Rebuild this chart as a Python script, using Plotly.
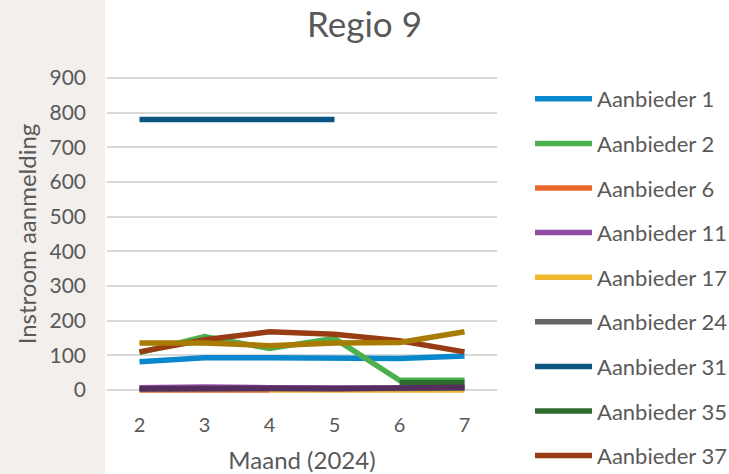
import plotly.graph_objects as go

# Maanden (2024)
maanden = [2, 3, 4, 5, 6, 7]

# Instroom aanmelding per aanbieder (None = geen waarde)
aanbieder_1 = [82, 93, 93, 91, 91, 98]
aanbieder_2 = [108, 154, 120, 149, 28, 28]
aanbieder_6 = [0, 0, 0, None, None, None]
aanbieder_11 = [7, 9, 7, 5, 6, 8]
aanbieder_17 = [None, None, 0, 0, 0, 0]
aanbieder_24 = [3, 4, 4, 3, 4, 5]
aanbieder_31 = [780, 780, 780, 780, None, None]
aanbieder_35 = [None, None, None, None, 21, 21]
aanbieder_37 = [110, 145, 168, 161, 142, 110]
aanbieder_38 = [136, 136, 128, 136, 137, 168]
aanbieder_39 = [4, 6, 5, 4, 5, 8]

series = [
    ("Aanbieder 1", aanbieder_1, "#0A88CD", True),
    ("Aanbieder 2", aanbieder_2, "#4DB04F", True),
    ("Aanbieder 6", aanbieder_6, "#E8692E", True),
    ("Aanbieder 11", aanbieder_11, "#8E4EA6", True),
    ("Aanbieder 17", aanbieder_17, "#F2B92C", True),
    ("Aanbieder 24", aanbieder_24, "#666666", True),
    ("Aanbieder 31", aanbieder_31, "#0B5580", True),
    ("Aanbieder 35", aanbieder_35, "#2E6B2E", True),
    ("Aanbieder 37", aanbieder_37, "#983C14", True),
    ("Aanbieder 38", aanbieder_38, "#A87B04", False),
    ("Aanbieder 39", aanbieder_39, "#552D5F", False),
]

FONT = "Lato"
GREY = "#595959"

fig = go.Figure()
for i, (name, values, color, in_legend) in enumerate(series):
    fig.add_trace(go.Scatter(
        x=maanden, y=values, name=name, mode="lines",
        line=dict(color=color, width=5.5),
        showlegend=in_legend, legendgroup=f"g{i}",
        connectgaps=False,
    ))

W, H = 729, 474
fig.update_layout(
    width=W, height=H,
    margin=dict(l=107, r=232, t=71, b=77),
    paper_bgcolor="white", plot_bgcolor="white",
    font=dict(family=FONT, color=GREY, size=20),
    title=dict(text="Regio 9", x=0.5, xref="container", xanchor="center",
               y=1 - 25 / H, yref="container", yanchor="middle",
               font=dict(size=35, color=GREY, family=FONT)),
    xaxis=dict(range=[1.5, 7.5], tickmode="array", tickvals=maanden,
               showgrid=False, zeroline=False, showline=False, automargin=False,
               ticks="outside", ticklen=10, tickcolor="rgba(0,0,0,0)",
               tickfont=dict(size=20, color=GREY),
               title=dict(text="Maand (2024)", standoff=17,
                          font=dict(size=24, color=GREY))),
    yaxis=dict(range=[-20, 920], tickvals=list(range(0, 901, 100)),
               showgrid=True, gridcolor="#D9D9D9", gridwidth=1.5,
               zeroline=False, showline=False, automargin=False,
               ticks="", ticklabelstandoff=20,
               tickfont=dict(size=21, color=GREY),
               title=dict(text="Instroom aanmelding", standoff=6,
                          font=dict(size=24, color=GREY))),
    legend=dict(xref="container", yref="container", x=530 / W, y=1 - 78 / H,
                xanchor="left", yanchor="top", itemwidth=57,
                tracegroupgap=13, traceorder="grouped", maxheight=1000,
                font=dict(size=22, color=GREY), bgcolor="rgba(0,0,0,0)"),
    shapes=[dict(type="rect", xref="paper", yref="paper",
                 x0=-107 / 390, x1=-2 / 390, y0=-2, y1=2, layer="below",
                 fillcolor="#F2EFEC", line=dict(width=0))],
)

fig.write_html("out.html")
